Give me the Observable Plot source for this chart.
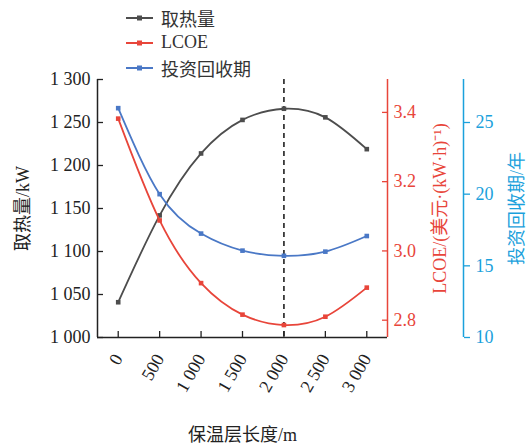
<!DOCTYPE html>
<html><head><meta charset="utf-8">
<script src="https://cdn.jsdelivr.net/npm/d3@7"></script>
<script src="https://cdn.jsdelivr.net/npm/@observablehq/plot@0.6"></script>
<style>
body{margin:0;background:#fff;}
#wrap{position:relative;width:531px;height:448px;}
#legend{position:absolute;left:126px;top:5px;font-family:"Liberation Serif","Noto Sans CJK SC",serif;font-size:18px;color:#333;}
.item{display:flex;align-items:center;height:25px;}
.item svg{margin-right:8px;}
</style></head><body><div id="wrap"><div id="legend"></div></div>
<script>
const lengths = [0, 500, 1000, 1500, 2000, 2500, 3000];
const heat = [1041, 1142, 1214, 1253, 1266, 1256, 1219];
const lcoe = [3.382, 3.088, 2.907, 2.816, 2.786, 2.810, 2.894];
const payback = [26.0, 20.0, 17.25, 16.06, 15.7, 15.99, 17.08];
const seriesNames = ["取热量", "LCOE", "投资回收期"];
const seriesColors = ["#4d4d4d", "#e8453a", "#4a78c6"];
const axisColors = ["#222222", "#e8453a", "#1ba1dc"];
const xTicks = [0, 500, 1000, 1500, 2000, 2500, 3000];
const heatTicks = [1000, 1050, 1100, 1150, 1200, 1250, 1300];
const lcoeTicks = [2.8, 3.0, 3.2, 3.4];
const paybackTicks = [10, 15, 20, 25];
const xDomain = [-250, 3250];
const heatDomain = [1000, 1300];
const lcoeDomain = [2.75, 3.495];
const paybackDomain = [10, 28];
const optimum = [2000];
const xLabel = "保温层长度/m";
const yLabels = ["取热量/kW", "LCOE/(美元·(kW·h)⁻¹)", "投资回收期/年"];

const lcoeToHeat = d3.scaleLinear(lcoeDomain, heatDomain);
const pbToHeat = d3.scaleLinear(paybackDomain, heatDomain);
const thou = d => d >= 1000 ? d3.format(",")(d).replace(/,/g, " ") : String(d);

const rows = lengths.map((L, i) => ({L, heat: heat[i], lcoe: lcoeToHeat(lcoe[i]), payback: pbToHeat(payback[i])}));
const keys = ["heat", "lcoe", "payback"];

const marks = [
  Plot.ruleX(optimum, {stroke: "#111", strokeWidth: 1.5, strokeDasharray: "5,4"})
];
keys.forEach((k, i) => {
  marks.push(Plot.line(rows, {x: "L", y: k, curve: "natural", stroke: seriesColors[i], strokeWidth: 1.8}));
  marks.push(Plot.dot(rows, {x: "L", y: k, symbol: "square", r: 2.6, fill: seriesColors[i], stroke: "none"}));
});
marks.push(
  Plot.ruleX([xDomain[0]], {stroke: axisColors[0], strokeWidth: 1.5}),
  Plot.ruleY([heatDomain[0]], {stroke: axisColors[0], strokeWidth: 1.5}),
  Plot.ruleX([xDomain[1]], {stroke: axisColors[1], strokeWidth: 1.5}),
  Plot.ruleX([xDomain[1]], {stroke: axisColors[2], strokeWidth: 1.5, dx: 76}),
  // x axis
  Plot.axisX(xTicks, {anchor: "bottom", tickSize: 6, insetBottom: 6, fill: "none", stroke: axisColors[0], strokeWidth: 1.3, label: null}),
  Plot.axisX(xTicks, {anchor: "bottom", tickSize: 0, tickPadding: 18, tickRotate: -60, tickFormat: thou, fill: axisColors[0], label: null}),
  // left axis
  Plot.axisY(heatTicks, {anchor: "left", tickSize: 6, insetLeft: 6, fill: "none", stroke: axisColors[0], strokeWidth: 1.3, label: null}),
  Plot.axisY(heatTicks, {anchor: "left", tickSize: 0, tickPadding: 7, tickFormat: thou, fill: axisColors[0], label: null}),
  // red axis
  Plot.axisY(lcoeTicks.map(lcoeToHeat), {anchor: "right", tickSize: 6, insetRight: 6, fill: "none", stroke: axisColors[1], strokeWidth: 1.3, label: null}),
  Plot.axisY(lcoeTicks.map(lcoeToHeat), {anchor: "right", tickSize: 0, tickPadding: 6, tickFormat: d => lcoeToHeat.invert(d).toFixed(1), fill: axisColors[1], label: null}),
  // blue axis
  Plot.axisY(paybackTicks.map(pbToHeat), {anchor: "right", dx: 76, tickSize: 6, fill: "none", stroke: axisColors[2], strokeWidth: 1.3, label: null}),
  Plot.axisY(paybackTicks.map(pbToHeat), {anchor: "right", dx: 76, tickSize: 0, tickPadding: 12, tickFormat: d => Math.round(pbToHeat.invert(d)), fill: axisColors[2], label: null}),
  // labels
  Plot.text([xLabel], {frameAnchor: "bottom", dy: 98, textAnchor: "middle", lineAnchor: "middle", fill: "#222", fontSize: 18}),
  Plot.text([yLabels[0]], {frameAnchor: "left", dx: -74, rotate: -90, textAnchor: "middle", lineAnchor: "middle", fill: "#222", fontSize: 18}),
  Plot.text([yLabels[1]], {frameAnchor: "right", dx: 53, rotate: -90, textAnchor: "middle", lineAnchor: "middle", fill: axisColors[1], fontSize: 18}),
  Plot.text([yLabels[2]], {frameAnchor: "right", dx: 130, rotate: -90, textAnchor: "middle", lineAnchor: "middle", fill: axisColors[2], fontSize: 18})
);

const chart = Plot.plot({
  width: 531, height: 448,
  marginLeft: 97, marginRight: 144, marginTop: 79, marginBottom: 111,
  x: {domain: xDomain, axis: null},
  y: {domain: heatDomain, axis: null},
  style: {fontFamily: "'Liberation Serif','Noto Sans CJK SC',serif", fontSize: "18px", background: "#fff", overflow: "visible"},
  marks
});
document.getElementById("wrap").appendChild(chart);

const legend = document.getElementById("legend");
seriesNames.forEach((n, i) => {
  const item = document.createElement("div");
  item.className = "item";
  item.innerHTML = `<svg width="27" height="10"><line x1="0" x2="27" y1="5" y2="5" stroke="${seriesColors[i]}" stroke-width="2"/><rect x="11" y="2.5" width="5" height="5" fill="${seriesColors[i]}"/></svg><span>${n}</span>`;
  legend.appendChild(item);
});
</script>
</body></html>
